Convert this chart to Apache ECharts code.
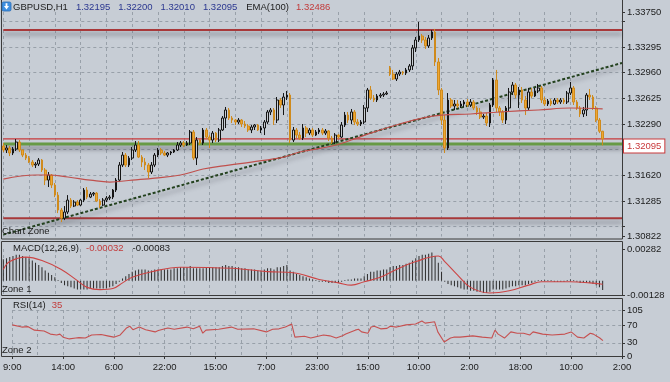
<!DOCTYPE html>
<html><head><meta charset="utf-8">
<script src="https://cdn.jsdelivr.net/npm/echarts@6/dist/echarts.min.js"></script>
<style>html,body{margin:0;padding:0;background:#c7cdd5;overflow:hidden}#c{width:670px;height:382px}</style>
</head><body><div id="c"></div>
<script>
const symbolName = 'GBPUSD,H1';
const timeLabels = ['9:00','14:00','6:00','22:00','15:00','7:00','23:00','15:00','10:00','2:00','18:00','10:00','2:00'];
const barsPerLabel = 16;
const categoryCount = 193;
// [open, close, low, high]
const candles = [
[1.32002,1.31950,1.31924,1.32041],[1.31950,1.31976,1.31911,1.32015],[1.31976,1.31911,1.31871,1.32002],[1.31911,1.31963,1.31884,1.31989],
[1.31963,1.32054,1.31937,1.32093],[1.32054,1.31950,1.31924,1.32080],[1.31950,1.31884,1.31858,1.31963],[1.31884,1.31845,1.31819,1.31911],
[1.31845,1.31793,1.31780,1.31871],[1.31793,1.31754,1.31728,1.31819],[1.31754,1.31767,1.31715,1.31793],[1.31767,1.31819,1.31741,1.31845],
[1.31819,1.31689,1.31663,1.31832],[1.31689,1.31558,1.31493,1.31715],[1.31558,1.31624,1.31467,1.31663],[1.31624,1.31493,1.31454,1.31637],
[1.31493,1.31362,1.31336,1.31519],[1.31362,1.31167,1.31127,1.31402],[1.31167,1.31062,1.31010,1.31193],[1.31062,1.31141,1.31036,1.31219],
[1.31141,1.31297,1.31114,1.31362],[1.31297,1.31219,1.31193,1.31323],[1.31219,1.31271,1.31206,1.31297],[1.31271,1.31232,1.31219,1.31297],
[1.31232,1.31297,1.31219,1.31310],[1.31297,1.31428,1.31271,1.31454],[1.31428,1.31336,1.31310,1.31467],[1.31336,1.31375,1.31323,1.31402],
[1.31375,1.31388,1.31349,1.31402],[1.31388,1.31284,1.31271,1.31402],[1.31284,1.31232,1.31193,1.31310],[1.31232,1.31297,1.31219,1.31323],
[1.31297,1.31323,1.31271,1.31349],[1.31323,1.31336,1.31297,1.31362],[1.31336,1.31428,1.31310,1.31441],[1.31428,1.31558,1.31402,1.31584],
[1.31558,1.31754,1.31532,1.31793],[1.31754,1.31884,1.31728,1.31924],[1.31884,1.31754,1.31728,1.31911],[1.31754,1.31845,1.31728,1.31871],
[1.31845,1.31950,1.31819,1.31989],[1.31950,1.32015,1.31924,1.32067],[1.32015,1.31858,1.31845,1.32067],[1.31858,1.31793,1.31728,1.31884],
[1.31793,1.31754,1.31689,1.31845],[1.31754,1.31663,1.31584,1.31780],[1.31663,1.31754,1.31637,1.31793],[1.31754,1.31884,1.31728,1.31911],
[1.31884,1.31950,1.31858,1.31976],[1.31950,1.31911,1.31884,1.31976],[1.31911,1.31884,1.31871,1.31937],[1.31884,1.31911,1.31858,1.31924],
[1.31911,1.31924,1.31884,1.31937],[1.31924,1.31950,1.31911,1.31963],[1.31950,1.32015,1.31937,1.32054],[1.32015,1.32041,1.31989,1.32067],
[1.32041,1.32015,1.31989,1.32067],[1.32015,1.32041,1.32002,1.32067],[1.32041,1.32185,1.32015,1.32211],[1.32185,1.31845,1.31819,1.32211],
[1.31845,1.32080,1.31754,1.32119],[1.32080,1.32041,1.32015,1.32093],[1.32041,1.32211,1.32015,1.32237],[1.32211,1.32119,1.32093,1.32237],
[1.32119,1.32080,1.31976,1.32145],[1.32080,1.32171,1.32041,1.32198],[1.32171,1.32080,1.32054,1.32185],[1.32080,1.32211,1.32054,1.32237],
[1.32211,1.32367,1.32198,1.32393],[1.32367,1.32472,1.32237,1.32511],[1.32472,1.32367,1.32341,1.32498],[1.32367,1.32341,1.32302,1.32393],
[1.32341,1.32315,1.32276,1.32354],[1.32315,1.32341,1.32289,1.32367],[1.32341,1.32289,1.32250,1.32354],[1.32289,1.32263,1.32237,1.32328],
[1.32263,1.32211,1.32185,1.32289],[1.32211,1.32250,1.32171,1.32276],[1.32250,1.32276,1.32211,1.32289],[1.32276,1.32211,1.32198,1.32289],
[1.32211,1.32237,1.32171,1.32263],[1.32237,1.32315,1.32145,1.32341],[1.32315,1.32446,1.32289,1.32472],[1.32446,1.32472,1.32406,1.32498],
[1.32472,1.32341,1.32276,1.32498],[1.32341,1.32602,1.32302,1.32641],[1.32602,1.32537,1.32498,1.32628],[1.32537,1.32641,1.32406,1.32693],
[1.32641,1.32667,1.32602,1.32720],[1.32667,1.32080,1.32041,1.32693],[1.32080,1.32211,1.32054,1.32250],[1.32211,1.32145,1.32106,1.32237],
[1.32145,1.32106,1.32080,1.32185],[1.32106,1.32237,1.32080,1.32289],[1.32237,1.32171,1.32119,1.32263],[1.32171,1.32211,1.32145,1.32237],
[1.32211,1.32145,1.32119,1.32237],[1.32145,1.32185,1.32132,1.32211],[1.32185,1.32211,1.32158,1.32237],[1.32211,1.32171,1.32145,1.32237],
[1.32171,1.32198,1.32145,1.32224],[1.32198,1.32106,1.32067,1.32211],[1.32106,1.32054,1.32028,1.32132],[1.32054,1.32145,1.32028,1.32171],
[1.32145,1.32119,1.32093,1.32158],[1.32119,1.32276,1.32106,1.32315],[1.32276,1.32406,1.32250,1.32446],[1.32406,1.32341,1.32302,1.32446],
[1.32341,1.32446,1.32289,1.32485],[1.32446,1.32315,1.32276,1.32472],[1.32315,1.32289,1.32263,1.32354],[1.32289,1.32315,1.32263,1.32341],
[1.32315,1.32498,1.32289,1.32537],[1.32498,1.32733,1.32446,1.32759],[1.32733,1.32628,1.32602,1.32785],[1.32628,1.32602,1.32576,1.32667],
[1.32602,1.32654,1.32576,1.32680],[1.32654,1.32667,1.32628,1.32693],[1.32667,1.32680,1.32641,1.32706],[1.32680,1.32693,1.32667,1.32720],
[1.33020,1.32941,1.32915,1.33046],[1.32941,1.32876,1.32863,1.32994],[1.32876,1.32941,1.32850,1.32967],[1.32941,1.32967,1.32915,1.32994],
[1.32967,1.32954,1.32928,1.32980],[1.32954,1.32994,1.32928,1.33020],[1.32994,1.33046,1.32967,1.33072],[1.33046,1.33281,1.32994,1.33320],
[1.33281,1.33385,1.33228,1.33424],[1.33385,1.33437,1.33359,1.33620],[1.33437,1.33385,1.33346,1.33463],[1.33385,1.33307,1.33268,1.33424],
[1.33307,1.33411,1.33281,1.33450],[1.33411,1.33489,1.33385,1.33515],[1.33489,1.33098,1.33046,1.33529],[1.33098,1.32733,1.32667,1.33150],
[1.32733,1.32341,1.32276,1.32759],[1.32341,1.31976,1.31911,1.32406],[1.31976,1.32602,1.31950,1.32693],[1.32602,1.32524,1.32498,1.32628],
[1.32524,1.32550,1.32472,1.32602],[1.32550,1.32524,1.32498,1.32602],[1.32524,1.32550,1.32498,1.32589],[1.32550,1.32576,1.32511,1.32602],
[1.32576,1.32537,1.32511,1.32615],[1.32537,1.32576,1.32511,1.32615],[1.32576,1.32498,1.32472,1.32602],[1.32498,1.32446,1.32406,1.32524],
[1.32446,1.32380,1.32354,1.32498],[1.32380,1.32393,1.32354,1.32420],[1.32393,1.32302,1.32263,1.32433],[1.32302,1.32537,1.32250,1.32563],
[1.32537,1.32863,1.32511,1.32889],[1.32863,1.32498,1.32446,1.32994],[1.32498,1.32446,1.32393,1.32524],[1.32446,1.32341,1.32302,1.32472],
[1.32341,1.32498,1.32289,1.32524],[1.32498,1.32706,1.32446,1.32759],[1.32706,1.32798,1.32667,1.32837],[1.32798,1.32667,1.32628,1.32824],
[1.32667,1.32733,1.32498,1.32772],[1.32733,1.32602,1.32563,1.32772],[1.32602,1.32498,1.32406,1.32654],[1.32498,1.32706,1.32472,1.32759],
[1.32706,1.32654,1.32628,1.32759],[1.32654,1.32720,1.32641,1.32759],[1.32720,1.32759,1.32693,1.32811],[1.32759,1.32602,1.32563,1.32785],
[1.32602,1.32550,1.32524,1.32641],[1.32550,1.32589,1.32524,1.32615],[1.32589,1.32550,1.32524,1.32615],[1.32550,1.32602,1.32537,1.32628],
[1.32602,1.32576,1.32550,1.32628],[1.32576,1.32602,1.32550,1.32628],[1.32602,1.32576,1.32550,1.32628],[1.32576,1.32693,1.32550,1.32720],
[1.32693,1.32759,1.32667,1.32837],[1.32759,1.32576,1.32537,1.32785],[1.32576,1.32498,1.32472,1.32602],[1.32498,1.32420,1.32380,1.32524],
[1.32420,1.32472,1.32380,1.32511],[1.32472,1.32667,1.32393,1.32693],[1.32667,1.32641,1.32602,1.32746],[1.32641,1.32498,1.32472,1.32667],
[1.32498,1.32341,1.32315,1.32524],[1.32341,1.32195,1.32171,1.32367],[1.32195,1.32095,1.32010,1.32200]
];
// EMA(100) read at [bar index, value]
const emaPoints = [[0,1.31571],[10,1.31624],[14,1.31624],[20,1.31598],[27,1.31558],[33,1.31532],[40,1.31558],[47,1.31584],[55,1.31624],[62,1.31702],[70,1.31754],[77,1.31793],[87,1.31858],[92,1.31924],[102,1.32002],[108,1.32080],[114,1.32171],[123,1.32289],[130,1.32367],[136,1.32406],[145,1.32420],[154,1.32446],[166,1.32472],[176,1.32498],[186,1.32486]];
const macdHist = [
0.0019,0.0020,0.0021,0.0022,0.0023,0.0023,0.0022,0.0021,0.0020,0.0018,
0.0016,0.0014,0.0012,0.0009,0.0007,0.0005,0.0003,0.00005,-0.0002,-0.0004,
-0.0005,-0.0006,-0.0007,-0.0008,-0.0008,-0.0008,-0.0008,-0.0007,-0.0007,-0.0007,
-0.0007,-0.0007,-0.0007,-0.0006,-0.0005,-0.0003,-0.0001,0.0002,0.0004,0.0006,
0.0008,0.0009,0.0010,0.0010,0.0010,0.0009,0.0009,0.0010,0.0010,0.0010,
0.0010,0.0010,0.0010,0.0011,0.0011,0.0012,0.0012,0.0012,0.0013,0.0011,
0.0011,0.0011,0.0011,0.0012,0.0012,0.0012,0.0012,0.0012,0.0013,0.0014,
0.0013,0.0013,0.0012,0.0012,0.0011,0.0011,0.0010,0.0010,0.0010,0.0009,
0.0009,0.0010,0.0011,0.0011,0.0010,0.0012,0.0012,0.0013,0.0014,0.0009,
0.0008,0.0006,0.0005,0.0004,0.0003,0.0002,0.0001,0.00005,-0.0001,-0.0001,
-0.0001,-0.0002,-0.0002,-0.0002,-0.0002,-0.0001,0.00005,0.0001,0.0001,0.0002,
0.0002,0.0002,0.0004,0.0006,0.0008,0.0008,0.0009,0.0009,0.0010,0.0010,
0.0012,0.0013,0.0013,0.0014,0.0014,0.0015,0.0016,0.0018,0.0020,0.0022,
0.0023,0.0023,0.0024,0.0025,0.0022,0.0016,0.0008,-0.0001,-0.0003,-0.0004,
-0.0005,-0.0006,-0.0007,-0.0008,-0.0008,-0.0009,-0.0009,-0.0010,-0.0010,-0.0011,
-0.0011,-0.0010,-0.0008,-0.0008,-0.0008,-0.0008,-0.0007,-0.0006,-0.0005,-0.0005,
-0.0004,-0.0004,-0.0004,-0.0003,-0.0002,-0.0001,0.00005,0.00005,0.00005,0.00005,
0.00005,-0.0001,-0.0001,-0.0001,-0.0001,0.00005,0.0001,0.00005,-0.0001,-0.0002,
-0.0002,-0.0002,-0.0002,-0.0003,-0.0004,-0.0006,-0.00083
];
const macdSignal = [[0,0.0010],[2,0.0017],[7,0.0021],[12,0.0018],[18,0.0010],[23,0.0000],[26,-0.0006],[30,-0.0008],[34,-0.0007],[37,-0.0002],[40,0.0003],[46,0.0008],[55,0.0012],[71,0.0011],[82,0.0008],[90,0.0007],[98,0.0001],[104,-0.0002],[108,-0.0004],[112,-0.0001],[117,0.0003],[122,0.0010],[128,0.0017],[135,0.0022],[137,0.0017],[141,0.0005],[145,-0.0006],[151,-0.0011],[157,-0.0009],[163,-0.0004],[167,-0.0001],[176,-0.0001],[182,-0.0002],[186,-0.00032]];
const rsiPoints = [[0,71],[3,66],[5,67],[7,59],[10,57],[12,50],[14,48],[15,50],[16,43],[18,39],[20,41],[21,42],[23,41],[25,48],[28,49],[30,46],[32,43],[34,48],[36,64],[37,68],[38,60],[40,66],[42,60],[45,55],[46,58],[49,64],[51,61],[55,66],[57,62],[59,68],[60,52],[61,59],[65,61],[69,66],[71,61],[76,62],[80,55],[82,61],[84,62],[86,66],[88,73],[89,43],[92,45],[94,41],[98,48],[100,46],[102,41],[104,46],[105,50],[108,59],[109,61],[110,55],[112,52],[113,66],[114,68],[116,62],[118,63],[119,68],[121,66],[124,71],[127,73],[129,80],[130,75],[132,77],[133,78],[134,55],[136,32],[138,41],[139,43],[141,43],[145,46],[148,43],[151,41],[152,59],[153,50],[155,41],[157,55],[159,52],[161,52],[163,48],[164,55],[167,50],[170,48],[174,50],[176,55],[178,43],[180,41],[182,52],[183,50],[185,41],[186,35]];
const priceMin = 1.30822, priceMax = 1.33750;
const priceGridLevels = [1.30950,1.31285,1.31620,1.31955,1.32290,1.32625,1.32960,1.33295,1.33630];
const priceLabelLevels = [1.30822,1.31285,1.31620,1.32290,1.32625,1.32960,1.33295,1.33750];
const resistanceLevel = 1.33515, supportLevel = 1.31060, greenLevel = 1.32030;
const trendStart = [0, 1.30846], trendEnd = [192, 1.33085];
const macdMin = -0.00128, macdMax = 0.00282;
const rsiLabelLevels = [0,30,70,105];
const emaLabel = 'EMA(100)', macdLabel = 'MACD(12,26,9)', rsiLabel = 'RSI(14)';

const categories = Array.from({length: categoryCount}, (_, i) => String(i));
const lastIdx = categoryCount - 1;
const last = candles[candles.length - 1];
const emaLast = emaPoints[emaPoints.length - 1][1];
const macdLast = macdHist[macdHist.length - 1];
const sigLast = macdSignal[macdSignal.length - 1][1];
const rsiLast = rsiPoints[rsiPoints.length - 1][1];
const F = "'Liberation Sans', Arial, sans-serif";
const grid = '#98a0a9';
const chart = echarts.init(document.getElementById('c'), null, {renderer: 'canvas'});
const xBase = (gi, showLabel) => ({
  type: 'category', gridIndex: gi, data: categories, boundaryGap: false,
  axisLine: {show: false},
  axisTick: showLabel ? {show: true, interval: barsPerLabel - 1, length: 3, lineStyle: {color: '#333'}} : {show: false},
  axisLabel: showLabel ? {show: true, interval: barsPerLabel - 1, margin: 6, fontSize: 9.5, fontFamily: F, color: '#1c1c1c',
    formatter: (v, i) => (i % barsPerLabel === 0 ? (timeLabels[i / barsPerLabel] || '') : '')} : {show: false},
  splitLine: {show: true, interval: barsPerLabel / 2 - 1, lineStyle: {color: grid, type: [3, 3], width: 1}}
});
const shadow = {shadowColor: 'rgba(50,50,60,0.5)', shadowBlur: 4, shadowOffsetY: 4};
const hLine = (name, v, style, z) => ({
  type: 'line', name: name, xAxisIndex: 0, yAxisIndex: 0, z: z, silent: true, showSymbol: false,
  data: [[0, v], [lastIdx, v]], lineStyle: Object.assign({}, style, shadow)
});
const title = (left, top, text, rich) => ({left: left, top: top, padding: 0, text: text,
  textStyle: {fontSize: 9.5, fontWeight: 'normal', fontFamily: F, color: '#1c1c1c', rich: rich}});
const option = {
  animation: false,
  backgroundColor: '#c7cdd5',
  textStyle: {fontFamily: F},
  title: [
    title(13, 2, '{k|' + symbolName + '}{b|' + last[0].toFixed(5) + '}{b|' + last[3].toFixed(5) + '}{b|' + last[2].toFixed(5) + '}{b|' + last[1].toFixed(5) + '}{e|' + emaLabel + '}{r|' + emaLast.toFixed(5) + '}', {
        k: {fontSize: 9.5, color: '#1c1c1c', fontFamily: F},
        b: {fontSize: 9.5, color: '#2b3790', fontFamily: F, padding: [0, 0, 0, 8]},
        e: {fontSize: 9.5, color: '#1c1c1c', fontFamily: F, padding: [0, 0, 0, 9]},
        r: {fontSize: 9.5, color: '#c23a3a', fontFamily: F, padding: [0, 0, 0, 7]}}),
    title(2, 226, 'Chart Zone'),
    title(13, 243, '{k|' + macdLabel + '}{r|' + sigLast.toFixed(5) + '}{d|' + macdLast.toFixed(5) + '}', {
        k: {fontSize: 9.5, color: '#1c1c1c', fontFamily: F},
        r: {fontSize: 9.5, color: '#c23a3a', fontFamily: F, padding: [0, 0, 0, 7]},
        d: {fontSize: 9.5, color: '#1c1c1c', fontFamily: F, padding: [0, 0, 0, 9]}}),
    title(2, 284, 'Zone 1'),
    title(13, 300, '{k|' + rsiLabel + '}{r|' + rsiLast + '}', {
        k: {fontSize: 9.5, color: '#1c1c1c', fontFamily: F},
        r: {fontSize: 9.5, color: '#c23a3a', fontFamily: F, padding: [0, 0, 0, 6]}}),
    title(2, 345, 'Zone 2')
  ],
  graphic: [
    {type: 'rect', z: 50, shape: {x: 1.5, y: -1, width: 621, height: 240}, style: {fill: 'none', stroke: '#3b3b3b', lineWidth: 1}},
    {type: 'rect', z: 50, shape: {x: 1.5, y: 241.5, width: 621, height: 54}, style: {fill: 'none', stroke: '#3b3b3b', lineWidth: 1}},
    {type: 'rect', z: 50, shape: {x: 1.5, y: 298.5, width: 621, height: 58}, style: {fill: 'none', stroke: '#3b3b3b', lineWidth: 1}},
    {type: 'rect', z: 51, shape: {x: 2, y: 2, width: 9, height: 9, r: 1.5}, style: {fill: '#3f8fe0', stroke: '#2a6cb5', lineWidth: 0.8}},
    {type: 'polygon', z: 52, shape: {points: [[4, 6], [9, 6], [6.5, 9.5]]}, style: {fill: '#ffffff'}},
    {type: 'rect', z: 52, shape: {x: 5.6, y: 3.2, width: 1.8, height: 3}, style: {fill: '#ffffff'}}
  ],
  grid: [
    {left: 3.3, right: 48, top: 12, height: 224.5},
    {left: 3.3, right: 48, top: 249, height: 46},
    {left: 3.3, right: 48, top: 310, height: 46}
  ],
  xAxis: [xBase(0, false), xBase(1, false), xBase(2, true)],
  yAxis: [
    {type: 'value', gridIndex: 0, position: 'right', min: priceMin, max: priceMax, scale: true,
      axisLine: {show: false},
      axisTick: {show: true, length: 3, customValues: priceGridLevels.concat([priceMin, priceMax]), lineStyle: {color: '#333'}},
      axisLabel: {show: true, customValues: priceLabelLevels, margin: 5, fontSize: 9.5, fontFamily: F, color: '#1c1c1c', formatter: v => v.toFixed(5)},
      splitLine: {show: false}},
    {type: 'value', gridIndex: 1, position: 'right', min: macdMin, max: macdMax,
      axisLine: {show: false},
      axisTick: {show: true, length: 3, customValues: [macdMin, macdMax], lineStyle: {color: '#333'}},
      axisLabel: {show: true, customValues: [macdMin, macdMax], margin: 5, fontSize: 9.5, fontFamily: F, color: '#1c1c1c', formatter: v => v.toFixed(5)},
      splitLine: {show: false}},
    {type: 'value', gridIndex: 2, position: 'right', min: 0, max: 105, interval: 105,
      axisLine: {show: false},
      axisTick: {show: true, length: 3, customValues: rsiLabelLevels, lineStyle: {color: '#333'}},
      axisLabel: {show: true, customValues: rsiLabelLevels, margin: 5, fontSize: 9.5, fontFamily: F, color: '#1c1c1c'},
      splitLine: {show: true, lineStyle: {color: grid, type: [3, 3]}}}
  ],
  series: [
    {type: 'line', name: 'grid', xAxisIndex: 0, yAxisIndex: 0, data: [], z: 1, silent: true,
      markLine: {silent: true, symbol: 'none', label: {show: false}, animation: false, z: 1,
        lineStyle: {color: grid, type: [3, 3], width: 1},
        data: priceGridLevels.map(v => [{coord: [0, v]}, {coord: [lastIdx, v]}])}},
    hLine('resistance', resistanceLevel, {color: '#a8383a', width: 2}, 3),
    hLine('support', supportLevel, {color: '#a8383a', width: 2}, 3),
    hLine('green', greenLevel, {color: '#679a45', width: 3}, 3),
    {type: 'line', name: 'price', xAxisIndex: 0, yAxisIndex: 0, z: 3, silent: true, showSymbol: false,
      data: [[0, last[1]], [lastIdx, last[1]]], lineStyle: {color: '#c8383a', width: 1.2},
      endLabel: {show: true, distance: 2, formatter: () => last[1].toFixed(5), offset: [0, 7],
        color: '#c8383a', fontSize: 9.5, fontFamily: F, backgroundColor: '#ffffff', borderColor: '#c8383a', borderWidth: 1, padding: [2, 3, 1, 3]}},
    {type: 'line', name: 'trend', xAxisIndex: 0, yAxisIndex: 0, z: 3, silent: true, showSymbol: false,
      data: [trendStart, trendEnd], lineStyle: Object.assign({color: '#24421f', width: 2, type: [3, 2]}, shadow)},
    {type: 'candlestick', name: 'GBPUSD', xAxisIndex: 0, yAxisIndex: 0, data: candles, barWidth: 2.2, z: 4,
      itemStyle: {color: '#c9cdd2', color0: '#eea733', borderColor: '#151515', borderColor0: '#cf8a1c', borderWidth: 1}},
    {type: 'line', name: emaLabel, xAxisIndex: 0, yAxisIndex: 0, data: emaPoints, smooth: 0.4, showSymbol: false, z: 5,
      lineStyle: {color: '#c0504d', width: 1.2}},
    {type: 'bar', name: 'MACD', xAxisIndex: 1, yAxisIndex: 1, data: macdHist, barWidth: 1, z: 2,
      itemStyle: {color: '#2b2b2b'}},
    {type: 'line', name: 'Signal', xAxisIndex: 1, yAxisIndex: 1, data: macdSignal, smooth: 0.4, showSymbol: false, z: 3,
      lineStyle: {color: '#cc4444', width: 1.1}},
    {type: 'line', name: 'RSI', xAxisIndex: 2, yAxisIndex: 2, data: rsiPoints, showSymbol: false, z: 3,
      lineStyle: {color: '#c65050', width: 1.1}}
  ]
};
chart.setOption(option);
</script></body></html>
